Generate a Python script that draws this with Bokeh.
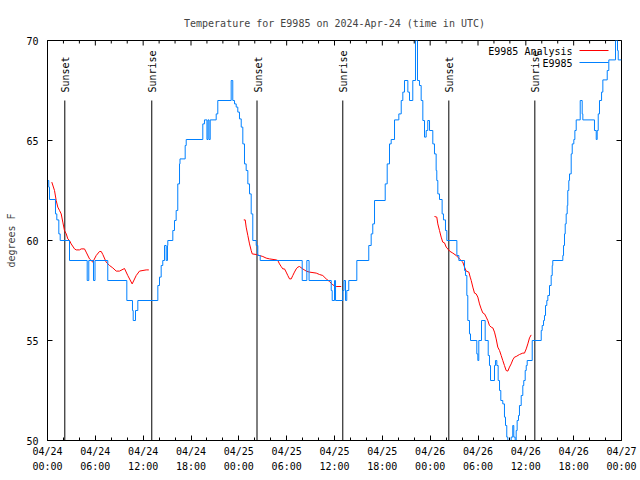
import math
from bokeh.plotting import figure
from bokeh.models import FixedTicker
from bokeh.core.properties import value
from bokeh.embed import file_html
from bokeh.resources import INLINE

# ---------------- data ----------------
title_text = "Temperature for E9985 on 2024-Apr-24 (time in UTC)"
y_label = "degrees F"

# hours since 04/24 00:00 UTC
tick_hours = [0, 6, 12, 18, 24, 30, 36, 42, 48, 54, 60, 66, 72]
tick_labels = ["04/24\n00:00", "04/24\n06:00", "04/24\n12:00", "04/24\n18:00",
               "04/25\n00:00", "04/25\n06:00", "04/25\n12:00", "04/25\n18:00",
               "04/26\n00:00", "04/26\n06:00", "04/26\n12:00", "04/26\n18:00",
               "04/27\n00:00"]
minor_hours = [2, 4, 8, 10, 14, 16, 20, 22, 26, 28, 32, 34, 38, 40, 44, 46,
               50, 52, 56, 58, 62, 64, 68, 70]
y_ticks = [50, 55, 60, 65, 70]
x_min, x_max = 0, 72
y_min, y_max = 50, 70

# observed station temperature (value holds until next change)
obs_hours = [
    0.0, 0.16, 0.25, 1.0, 1.17, 1.42, 1.59, 2.76, 4.98, 5.18,
    5.77, 5.96, 7.56, 9.95, 10.66, 10.75, 11.04, 11.33, 13.84, 14.05,
    14.26, 14.46, 14.68, 14.89, 15.05, 15.09, 15.72, 15.93, 16.14, 16.34,
    16.56, 16.62, 17.27, 17.4, 19.48, 19.69, 20.0, 20.13, 20.26, 20.41,
    21.16, 21.36, 23.04, 23.24, 23.46, 23.67, 23.87, 24.08, 24.3, 24.5,
    24.71, 24.92, 25.13, 25.34, 25.55, 25.75, 26.18, 26.38, 26.68, 31.95,
    32.53, 32.81, 35.59, 35.71, 36.0, 36.13, 37.04, 37.19, 37.38, 37.54,
    37.79, 38.8, 40.3, 40.6, 40.8, 41.02, 42.36, 42.61, 42.9, 43.11,
    43.53, 44.07, 44.37, 44.57, 44.78, 45.2, 45.41, 45.82, 46.16, 46.41,
    46.66, 46.87, 47.08, 47.29, 47.5, 47.7, 47.92, 48.33, 48.54, 48.75,
    48.83, 48.96, 49.17, 49.5, 49.67, 49.92, 50.09, 51.35, 51.6, 52.31,
    52.43, 52.6, 52.72, 52.93, 53.06, 53.85, 53.98, 54.1, 54.44, 54.9,
    55.28, 55.44, 55.57, 56.07, 56.19, 56.36, 56.53, 56.7, 56.86, 57.11,
    57.32, 57.45, 57.61, 57.74, 58.16, 58.36, 58.49, 58.66, 58.79, 58.91,
    59.08, 59.2, 59.42, 59.62, 59.74, 59.92, 60.05, 60.17, 60.8, 61.93,
    62.05, 62.22, 62.34, 62.47, 62.63, 62.76, 62.97, 63.18, 63.31, 63.38,
    64.64, 64.73, 64.85, 64.94, 65.06, 65.19, 65.26, 65.39, 65.48, 65.69,
    65.82, 66.02, 66.15, 66.32, 66.82, 67.07, 67.15, 68.61, 68.83, 68.95,
    69.08, 69.24, 69.5, 69.66, 70.21, 70.41, 71.25, 71.5, 71.59, 72.0,
]
obs_temps = [
    63.0, 62.67, 62.05, 61.33, 61.03, 60.33, 60.0, 59.0, 58.0, 59.0,
    58.0, 59.0, 58.0, 57.0, 56.5, 56.0, 56.5, 57.0, 57.75, 58.17,
    58.75, 59.0, 59.75, 59.0, 59.75, 60.0, 60.5, 61.0, 61.5, 62.83,
    63.83, 64.08, 64.75, 65.05, 65.83, 66.03, 65.05, 66.03, 65.05, 66.03,
    66.33, 67.0, 68.0, 67.0, 66.83, 66.67, 66.42, 66.08, 65.67, 64.83,
    63.83, 63.5, 62.83, 62.33, 61.33, 60.0, 59.75, 59.25, 59.0, 58.0,
    59.0, 58.0, 57.5, 57.0, 58.0, 57.0, 57.5, 58.0, 57.0, 57.5,
    58.0, 59.0, 59.75, 60.33, 60.83, 62.0, 62.83, 63.83, 64.83, 65.05,
    66.03, 66.33, 67.0, 67.42, 68.0, 67.42, 67.0, 68.0, 70.0, 68.0,
    67.75, 67.0, 66.0, 65.17, 65.5, 66.0, 65.5, 64.83, 64.33, 63.5,
    63.0, 62.33, 62.05, 61.33, 61.03, 60.5, 60.0, 59.25, 59.0, 58.5,
    58.25, 57.25, 56.0, 55.33, 55.0, 54.33, 54.0, 55.0, 56.0, 55.0,
    54.25, 53.75, 53.0, 53.75, 54.0, 53.75, 53.0, 52.5, 52.0, 51.83,
    51.17, 50.75, 50.17, 49.5, 50.17, 50.75, 50.17, 49.5, 50.5, 51.0,
    51.25, 51.75, 52.25, 52.75, 53.0, 53.5, 53.75, 54.0, 55.0, 55.5,
    55.75, 56.0, 56.25, 56.75, 57.0, 57.25, 57.75, 58.25, 58.75, 59.0,
    59.25, 59.75, 60.33, 60.83, 61.33, 61.75, 62.5, 63.0, 63.33, 64.33,
    64.83, 65.05, 65.5, 66.03, 67.0, 66.33, 66.03, 65.5, 65.05, 65.5,
    66.33, 67.0, 67.42, 68.03, 68.5, 69.03, 70.0, 69.5, 69.03, 69.03,
]

# analysis series, three nightly segments
ana_hours_1 = [0.54, 0.88, 1.09, 1.29, 1.51, 1.72, 1.92, 2.13, 2.35, 2.55,
               2.76, 2.97, 3.39, 3.6, 4.01, 4.23, 4.64, 4.85, 5.27, 5.68,
               6.11, 6.52, 6.74, 6.94, 7.36, 7.78, 8.19, 8.62, 9.03, 9.66,
               10.07, 10.62, 11.13, 11.54, 12.38, 12.71]
ana_temps_1 = [62.92, 62.5, 62.0, 61.67, 61.5, 61.33, 60.92, 60.5, 60.33, 60.08,
               60.0, 59.83, 59.58, 59.53, 59.53, 59.58, 59.58, 59.42, 59.08, 58.92,
               59.25, 59.45, 59.45, 59.3, 58.92, 58.75, 58.63, 58.47, 58.47, 58.6,
               58.25, 57.83, 58.25, 58.47, 58.53, 58.53]
ana_hours_2 = [24.62, 24.8, 24.92, 25.13, 25.34, 25.55, 25.68, 26.18, 26.59, 27.01,
               27.43, 27.85, 28.69, 28.89, 29.1, 29.31, 29.52, 29.73, 29.94, 30.14,
               30.36, 30.57, 30.77, 30.98, 31.2, 31.4, 31.61, 32.02, 32.45, 32.86,
               33.71, 34.12, 34.53, 34.96, 35.37, 35.79, 36.21, 36.84]
ana_temps_2 = [61.03, 61.03, 60.67, 60.25, 59.83, 59.5, 59.33, 59.3, 59.25, 59.2,
               59.12, 59.08, 59.03, 59.0, 58.83, 58.7, 58.58, 58.58, 58.42, 58.25,
               58.08, 58.08, 58.25, 58.42, 58.58, 58.67, 58.7, 58.58, 58.47, 58.42,
               58.37, 58.3, 58.25, 58.08, 57.95, 57.78, 57.7, 57.7]
ana_hours_3 = [48.54, 48.83, 48.96, 49.17, 49.38, 49.58, 49.8, 50.01, 50.21, 50.43,
               50.84, 51.27, 51.68, 52.09, 52.31, 52.52, 52.85, 53.02, 53.15, 53.35,
               53.56, 53.77, 53.98, 54.19, 54.4, 54.6, 54.82, 55.03, 55.23, 55.44,
               55.65, 55.86, 56.07, 56.28, 56.48, 56.7, 56.91, 57.11, 57.32, 57.53,
               57.74, 57.95, 58.16, 58.36, 58.58, 58.79, 59.2, 59.62, 59.83, 60.05,
               60.25, 60.46, 60.67]
ana_temps_3 = [61.2, 61.17, 60.83, 60.5, 60.17, 59.92, 59.88, 59.67, 59.58, 59.47,
               59.37, 59.25, 59.08, 58.92, 58.67, 58.47, 58.42, 58.17, 58.0, 57.67,
               57.37, 57.33, 57.17, 56.83, 56.58, 56.38, 56.33, 56.17, 56.0, 55.75,
               55.67, 55.63, 55.42, 55.08, 54.67, 54.5, 54.25, 54.0, 53.75, 53.5,
               53.47, 53.67, 53.83, 54.03, 54.17, 54.2, 54.3, 54.37, 54.37, 54.58,
               54.83, 55.13, 55.28]

event_hours = [2.17, 13.08, 26.28, 37.04, 50.34, 61.13]
event_labels = ["Sunset", "Sunrise", "Sunset", "Sunrise", "Sunset", "Sunrise"]

legend_labels = ["E9985 Analysis", "E9985"]

# ---------------- style ----------------
FONT = "DejaVu Sans Mono"
FS = "10px"
BLUE = "#0080ff"
RED = "#ff0000"

p = figure(width=640, height=480, x_range=(x_min, x_max), y_range=(y_min, y_max),
           output_backend="svg", toolbar_location=None,
           min_border_left=47, min_border_right=19,
           min_border_top=40, min_border_bottom=40)
p.title.text = title_text
p.title.align = "center"
p.title.text_font = FONT
p.title.text_font_size = FS
p.title.text_font_style = "normal"
p.title.standoff = 24

p.xgrid.visible = False
p.ygrid.visible = False
p.outline_line_color = "black"
p.outline_line_width = 1
p.background_fill_color = "white"
p.border_fill_color = "white"

xt = FixedTicker(ticks=tick_hours, minor_ticks=minor_hours)
yt = FixedTicker(ticks=y_ticks, minor_ticks=[])

def style_axis(ax, ticker):
    ax.ticker = ticker
    ax.axis_line_color = "black"
    ax.major_tick_in = 5
    ax.major_tick_out = 0
    ax.minor_tick_in = 3
    ax.minor_tick_out = 0
    ax.major_tick_line_color = "black"
    ax.minor_tick_line_color = "black"
    ax.major_label_text_font = FONT
    ax.major_label_text_color = "black"
    ax.major_label_text_font_size = FS

xa = p.xaxis[0]
style_axis(xa, xt)
xa.major_label_overrides = {h: lab for h, lab in zip(tick_hours, tick_labels)}
xa.major_label_standoff = 5
xa.major_label_text_line_height = 1.4

ya = p.yaxis[0]
style_axis(ya, yt)
ya.major_label_standoff = 9
ya.axis_label = y_label
ya.axis_label_text_font = FONT
ya.axis_label_text_font_size = FS
ya.axis_label_text_font_style = "normal"
ya.axis_label_standoff = 6

# mirrored inward ticks on the top and right borders (clipped to the frame)
p.scatter(x=tick_hours, y=y_max, marker="dash", angle=math.pi / 2, size=10,
          line_color="black", line_width=1)
p.scatter(x=minor_hours, y=y_max, marker="dash", angle=math.pi / 2, size=6,
          line_color="black", line_width=1)
p.scatter(x=x_max, y=y_ticks, marker="dash", size=10, line_color="black", line_width=1)

# sunrise / sunset markers
p.segment(x0=event_hours, x1=event_hours, y0=y_min, y1=67.0, line_color="black", line_width=1)
p.text(x=event_hours, y=67.4, text=event_labels, angle=math.pi / 2,
       text_align="left", text_baseline="middle", x_offset=1,
       text_font=value(FONT), text_font_size=FS, text_color="black")

# data
p.multi_line(xs=[ana_hours_1, ana_hours_2, ana_hours_3],
             ys=[ana_temps_1, ana_temps_2, ana_temps_3],
             line_color=RED, line_width=1)
p.step(x=obs_hours, y=obs_temps, mode="after", line_color=BLUE, line_width=1)

# key (gnuplot style: text then sample line)
p.text(x=[65.86, 65.86], y=[69.47, 68.87], text=legend_labels,
       text_align="right", text_baseline="middle",
       text_font=value(FONT), text_font_size=FS, text_color="black")
p.segment(x0=[66.73, 66.73], x1=[70.37, 70.37], y0=[69.5, 68.9], y1=[69.5, 68.9],
          line_color=[RED, BLUE], line_width=1)

open("out.html", "w").write(file_html(p, INLINE))
